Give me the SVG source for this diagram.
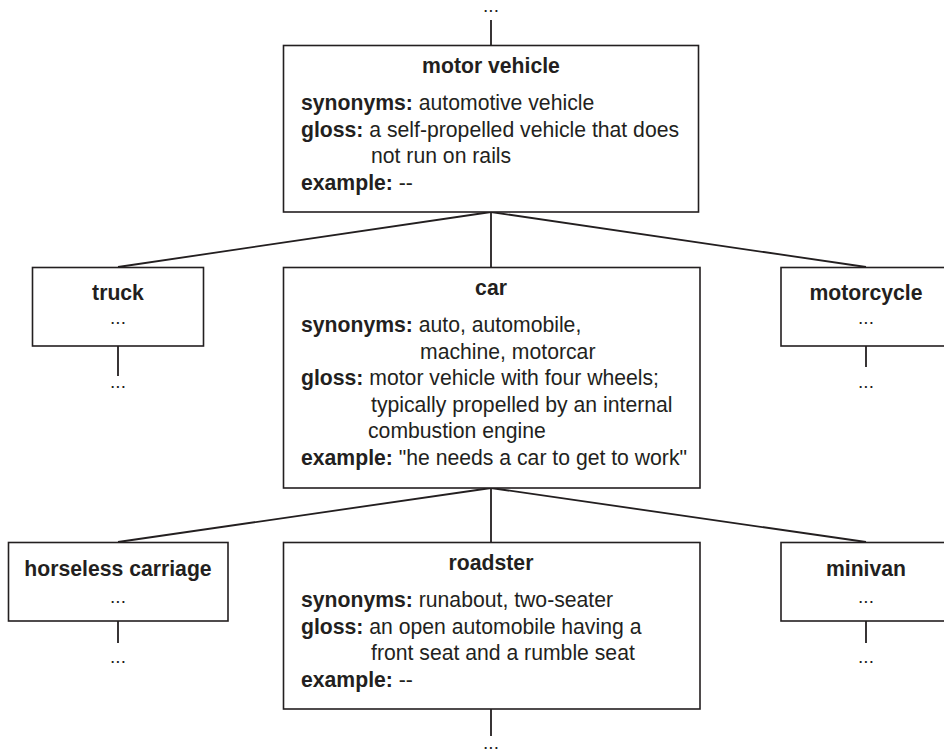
<svg xmlns="http://www.w3.org/2000/svg" width="944" height="751" viewBox="0 0 944 751">
<style>
text{font-family:"Liberation Sans",Arial,Helvetica,sans-serif;fill:#231f20;}
.t{font-size:21.2px;font-weight:bold;text-anchor:middle;}
.b{font-size:21.2px;}
.k{font-weight:bold;}
.d{font-size:19px;text-anchor:middle;}
.box{fill:#fff;stroke:#231f20;stroke-width:1.6;}
.ln{stroke:#231f20;stroke-width:1.8;fill:none;}
</style>
<rect width="944" height="751" fill="#fff"/>
<g id="connectors">
<line class="ln" x1="491" y1="20" x2="491" y2="45"/>
<line class="ln" x1="491" y1="212" x2="118" y2="267"/>
<line class="ln" x1="491" y1="212" x2="491" y2="267"/>
<line class="ln" x1="491" y1="212" x2="866" y2="267"/>
<line class="ln" x1="118" y1="346" x2="118" y2="376"/>
<line class="ln" x1="866" y1="346" x2="866" y2="367"/>
<line class="ln" x1="491" y1="488" x2="118" y2="542"/>
<line class="ln" x1="491" y1="488" x2="491" y2="542"/>
<line class="ln" x1="491" y1="488" x2="866" y2="542"/>
<line class="ln" x1="118" y1="621" x2="118" y2="643"/>
<line class="ln" x1="866" y1="621" x2="866" y2="643"/>
<line class="ln" x1="491" y1="709" x2="491" y2="736"/>
<text class="d" x="491" y="12">...</text>
<text class="d" x="118" y="388">...</text>
<text class="d" x="866" y="388">...</text>
<text class="d" x="118" y="663">...</text>
<text class="d" x="866" y="663">...</text>
<text class="d" x="491" y="749">...</text>
</g>
<g id="motor-vehicle">
<rect class="box" x="283.5" y="45.5" width="415" height="166.5"/>
<text class="t" x="491" y="73">motor vehicle</text>
<text class="b" x="301" y="110"><tspan class="k">synonyms:</tspan> automotive vehicle</text>
<text class="b" x="301" y="136.5"><tspan class="k">gloss:</tspan> a self-propelled vehicle that does</text>
<text class="b" x="371" y="163">not run on rails</text>
<text class="b" x="301" y="189.5"><tspan class="k">example:</tspan> --</text>
</g>
<g id="truck">
<rect class="box" x="32.5" y="267.5" width="171" height="78.5"/>
<text class="t" x="118" y="300">truck</text>
<text class="d" x="118" y="324">...</text>
</g>
<g id="car">
<rect class="box" x="283.5" y="267.5" width="416.5" height="220.5"/>
<text class="t" x="491" y="295">car</text>
<text class="b" x="301" y="332"><tspan class="k">synonyms:</tspan> auto, automobile,</text>
<text class="b" x="420" y="358.5">machine, motorcar</text>
<text class="b" x="301" y="385"><tspan class="k">gloss:</tspan> motor vehicle with four wheels;</text>
<text class="b" x="371" y="411.5">typically propelled by an internal</text>
<text class="b" x="368" y="438">combustion engine</text>
<text class="b" x="301" y="464.5"><tspan class="k">example:</tspan> "he needs a car to get to work"</text>
</g>
<g id="motorcycle">
<rect class="box" x="781" y="267.5" width="172" height="78.5"/>
<text class="t" x="866" y="300">motorcycle</text>
<text class="d" x="866" y="324">...</text>
</g>
<g id="horseless-carriage">
<rect class="box" x="8.5" y="542.5" width="219.5" height="78.5"/>
<text class="t" x="118" y="576">horseless carriage</text>
<text class="d" x="118" y="603">...</text>
</g>
<g id="roadster">
<rect class="box" x="283.5" y="542.5" width="416.5" height="166.5"/>
<text class="t" x="491" y="570">roadster</text>
<text class="b" x="301" y="607"><tspan class="k">synonyms:</tspan> runabout, two-seater</text>
<text class="b" x="301" y="633.5"><tspan class="k">gloss:</tspan> an open automobile having a</text>
<text class="b" x="371" y="660">front seat and a rumble seat</text>
<text class="b" x="301" y="686.5"><tspan class="k">example:</tspan> --</text>
</g>
<g id="minivan">
<rect class="box" x="781" y="542.5" width="172" height="78.5"/>
<text class="t" x="866" y="576">minivan</text>
<text class="d" x="866" y="603">...</text>
</g>
</svg>
